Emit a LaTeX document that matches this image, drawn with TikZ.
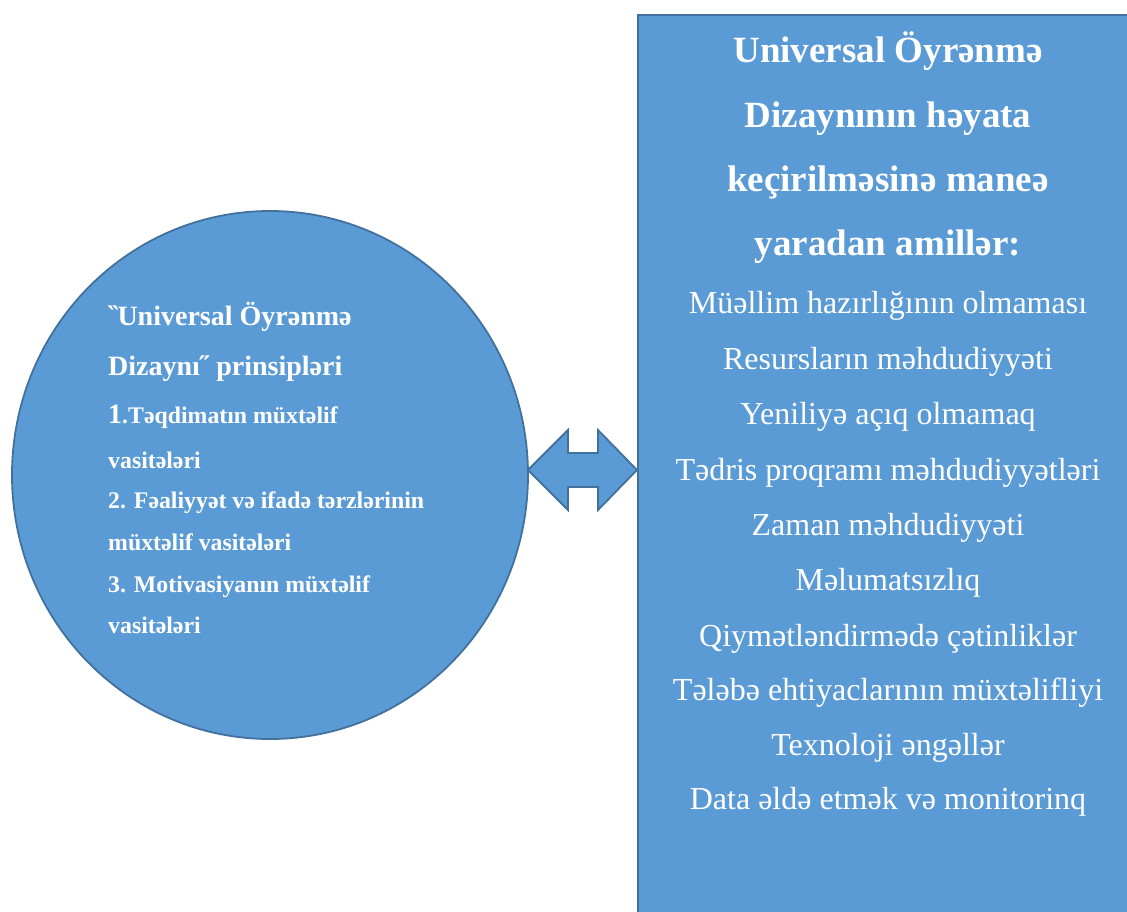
\documentclass[tikz,border=0pt]{standalone}
\usepackage{fontspec}
\setmainfont{Liberation Serif}
\usepackage{graphicx}
\usetikzlibrary{shapes.geometric}

\definecolor{shapefill}{HTML}{5B9BD5}
\definecolor{shapeedge}{HTML}{41719C}

\begin{document}
\begin{tikzpicture}[x=1pt, y=-1pt,
        shapebox/.style={draw=shapeedge, fill=shapefill, line width=1.8pt},
        headline/.style={text=white, inner sep=0pt, anchor=base west,
            font=\bfseries\fontsize{28}{28}\selectfont},
        itemline/.style={text=white, inner sep=0pt, anchor=base west,
            font=\bfseries\fontsize{23.8}{23.8}\selectfont},
        titleline/.style={text=white, inner sep=0pt, anchor=base,
            font=\bfseries\fontsize{37}{37}\selectfont},
        factorline/.style={text=white, inner sep=0pt, anchor=base,
            font=\fontsize{32}{32}\selectfont}]
        \useasboundingbox (0,0) rectangle (1127,911);
        \clip (0,0) rectangle (1127,911);

        % Add the shapes
        \node[shapebox, ellipse, minimum width=516pt, minimum height=528pt] (circ) at (270,475) {};
        \node[shapebox, rectangle, anchor=north west, minimum width=560pt, minimum height=960pt] (box) at (637,14) {};

        % Add the double arrow
        \coordinate (tipl) at (528,470);
        \coordinate (tipr) at (637,470);
        \draw[shapebox, line join=miter]
            (tipl) -- ++(40,-40) -- ++(0,23) -- ++(30,0) -- ++(0,-23)
            -- (tipr) -- ++(-39,40) -- ++(0,-23) -- ++(-30,0) -- ++(0,23) -- cycle;

        % Text in the circle
        \node[headline] (p1) at (108,325) {\reflectbox{˝}Universal Öyrənmə};
        \node[headline] (p2) at (108,375) {Dizaynı˝ prinsipləri};
        \node[itemline] (p3) at (108,423) {{\fontsize{28}{28}\selectfont 1}.Təqdimatın müxtəlif};
        \node[itemline] (p4) at (108,468) {vasitələri};
        \node[itemline] (p5) at (108,508) {2. Fəaliyyət və ifadə tərzlərinin};
        \node[itemline] (p6) at (108,550) {müxtəlif vasitələri};
        \node[itemline] (p7) at (108,592) {3. Motivasiyanın müxtəlif};
        \node[itemline] (p8) at (108,633) {vasitələri};

        % Text in the box
        \node[titleline] (t1) at (888,62) {Universal Öyrənmə};
        \node[titleline] (t2) at (888,127) {Dizaynının həyata};
        \node[titleline] (t3) at (888,191) {keçirilməsinə maneə};
        \node[titleline] (t4) at (888,255) {yaradan amillər:};

        \node[factorline] (f1) at (888,313) {Müəllim hazırlığının olmaması};
        \node[factorline] (f2) at (888,369) {Resursların məhdudiyyəti};
        \node[factorline] (f3) at (888,424) {Yeniliyə açıq olmamaq};
        \node[factorline] (f4) at (888,480) {Tədris proqramı məhdudiyyətləri};
        \node[factorline] (f5) at (888,535) {Zaman məhdudiyyəti};
        \node[factorline] (f6) at (888,590) {Məlumatsızlıq};
        \node[factorline] (f7) at (888,646) {Qiymətləndirmədə çətinliklər};
        \node[factorline] (f8) at (888,700) {Tələbə ehtiyaclarının müxtəlifliyi};
        \node[factorline] (f9) at (888,755) {Texnoloji əngəllər};
        \node[factorline] (f10) at (888,809) {Data əldə etmək və monitorinq};
    \end{tikzpicture}
\end{document}
